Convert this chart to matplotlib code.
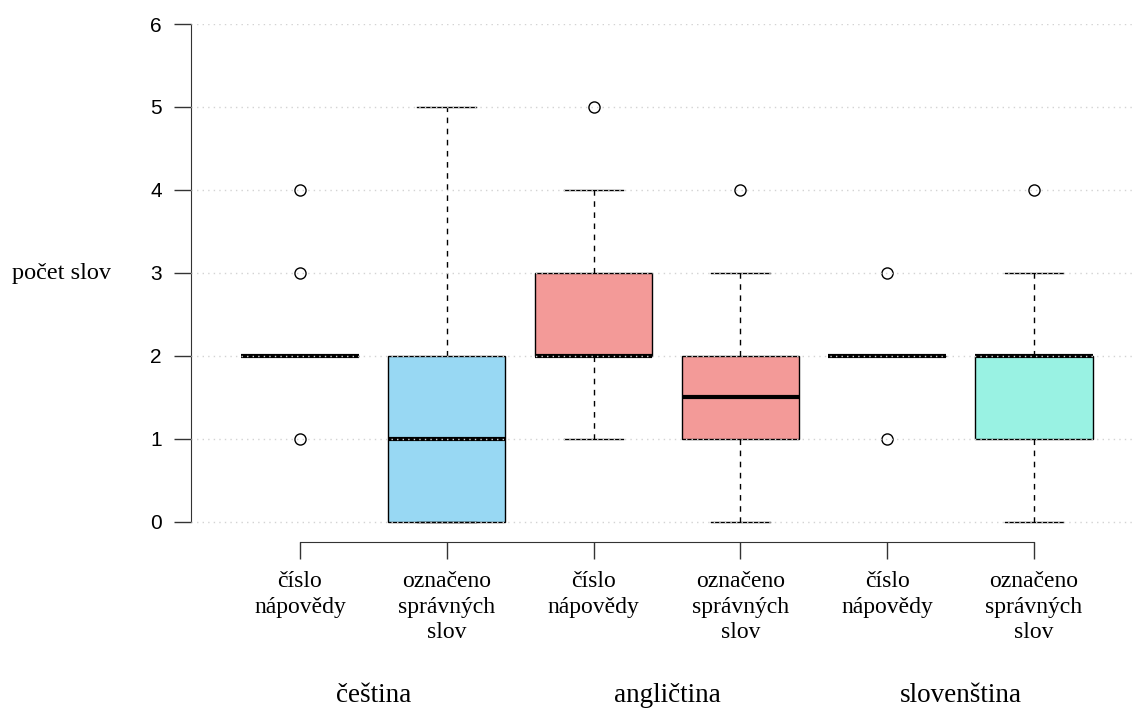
import matplotlib.pyplot as plt

# souhrnné statistiky krabicových grafů (6 krabic, 3 jazyky x 2 míry)
groups = ["čeština", "angličtina", "slovenština"]
box_labels = ["číslo\nnápovědy", "označeno\nsprávných\nslov"] * 3
q1 = [2, 0, 2, 1, 2, 1]
med = [2, 1, 2, 1.5, 2, 2]
q3 = [2, 2, 3, 2, 2, 2]
whislo = [2, 0, 1, 0, 2, 0]
whishi = [2, 5, 4, 3, 2, 3]
fliers = [[1, 3, 4], [], [5], [4], [1, 3], [4]]
colors = ["#98d8f3", "#98d8f3", "#f39a98", "#f39a98", "#99f2e3", "#99f2e3"]

stats = []
for i in range(6):
    stats.append(dict(q1=q1[i], med=med[i], q3=q3[i], whislo=whislo[i],
                      whishi=whishi[i], fliers=fliers[i]))

W, H = 1132, 711
fig = plt.figure(figsize=(W / 100, H / 100), dpi=100)
ax = fig.add_axes([191 / W, 1 - 542 / H, 1 - 191 / W, (542 - 24) / H])

pos = list(range(1, 7))
bp = ax.bxp(stats, positions=pos, widths=0.8, patch_artist=True,
            showfliers=True,
            boxprops=dict(edgecolor="black", linewidth=1.0),
            medianprops=dict(color="black", linewidth=3.0, solid_capstyle="butt"),
            whiskerprops=dict(color="black", linewidth=1.0, linestyle=(0, (4, 4))),
            capprops=dict(color="black", linewidth=1.0),
            capwidths=0.4,
            flierprops=dict(marker="o", markerfacecolor="none",
                            markeredgecolor="black", markersize=8,
                            markeredgewidth=1.0))
for patch, c in zip(bp["boxes"], colors):
    patch.set_facecolor(c)

# vodorovná mřížka přes krabice
for y in range(0, 7):
    ax.axhline(y, color="#d3d3d3", linewidth=1.0, linestyle=(0, (1, 3)), zorder=5)

ax.set_xlim(0.2575, 6.668)
ax.set_ylim(-0.241, 6.0)

for s in ["top", "right"]:
    ax.spines[s].set_visible(False)
ax.spines["left"].set_bounds(0, 6)
ax.spines["bottom"].set_bounds(1, 6)
ax.spines["left"].set_color("#333333")
ax.spines["bottom"].set_color("#333333")

ax.set_yticks(range(0, 7))
ax.set_yticklabels([str(v) for v in range(0, 7)], fontsize=15,
                   family="Liberation Sans")
ax.tick_params(axis="y", length=12, width=1.0, pad=9, color="#333333")

ax.set_xticks(pos)
ax.set_xticklabels(box_labels, fontsize=17, family="Liberation Serif",
                   linespacing=1.28)
ax.tick_params(axis="x", length=12, width=1.0, pad=9, color="#333333")

# popisky jazyků pod dvojicemi krabic
for i, g in enumerate(groups):
    xc = ax.transData.transform((2 * i + 1.5, 0))[0] / W
    fig.text(xc, 1 - 695 / H, g, fontsize=19.5, family="Liberation Serif",
             ha="center", va="center")

fig.text(12 / W, 1 - 274 / H, "počet slov", fontsize=17.5,
         family="Liberation Serif", ha="left", va="center")

fig.savefig("out.png", dpi=100)
